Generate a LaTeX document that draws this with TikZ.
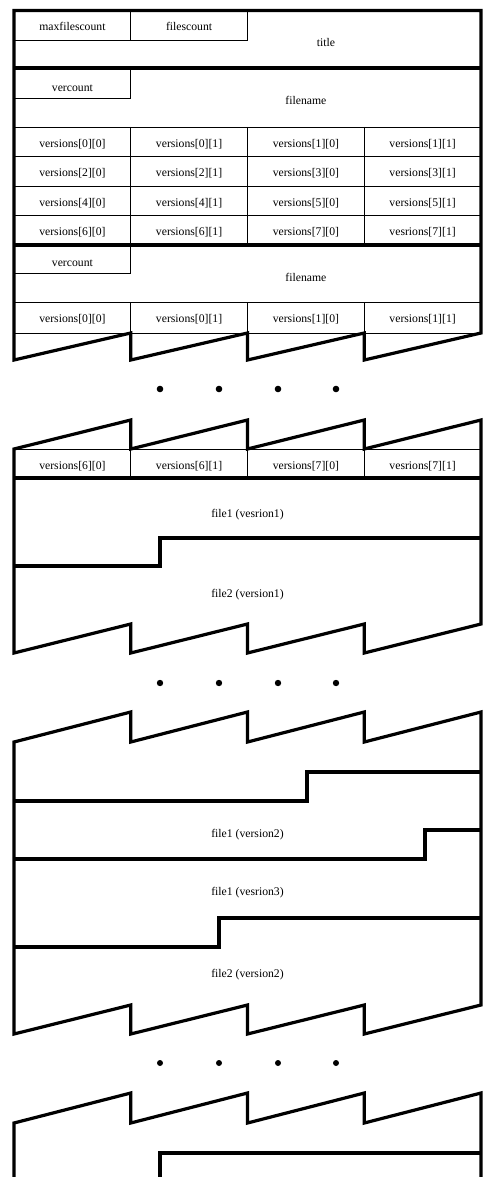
\documentclass[tikz,border=0pt]{standalone}
\usepackage{fontspec}
\setmainfont{Liberation Serif}
\begin{document}
\begin{tikzpicture}[x=1pt,y=-1pt,
  bordr/.style={line width=3.2pt, line join=miter},
  cellline/.style={line width=0.8pt},
  lbl/.style={font=\fontsize{11.7}{14}\selectfont, anchor=base, inner sep=0pt},
  dotmark/.style={fill=black}]
\useasboundingbox (0,0) rectangle (483,1177);
\def\xa{14}\def\xb{130.75}\def\xc{247.5}\def\xd{364.25}\def\xe{481}
% ---------- header block ----------
\draw[cellline] (\xa,40) -- (\xc,40);
\draw[cellline] (\xb,10.5) -- (\xb,40);
\draw[cellline] (\xc,10.5) -- (\xc,40);
\draw[cellline] (\xa,98) -- (\xb,98) -- (\xb,68);
\foreach \y in {127,156,186,215} \draw[cellline] (\xa,\y) -- (\xe,\y);
\foreach \x in {\xb,\xc,\xd} \draw[cellline] (\x,127) -- (\x,245);
\draw[cellline] (\xa,273) -- (\xb,273) -- (\xb,245);
\draw[cellline] (\xa,302) -- (\xe,302);
\draw[cellline] (\xa,333) -- (\xe,333);
\foreach \x in {\xb,\xc,\xd} \draw[cellline] (\x,302) -- (\x,333);
\draw[bordr] (\xa,68) -- (\xe,68);
\draw[bordr] (\xa,245) -- (\xe,245);
\draw[bordr] (\xa,360) -- (\xa,10.5) -- (\xe,10.5) -- (\xe,333)
  -- (\xd,360) -- (\xd,333) -- (\xc,360) -- (\xc,333) -- (\xb,360) -- (\xb,333) -- cycle;
\node[lbl] (maxfc) at (72.4,31) {maxfilescount};
\node[lbl] (filesc) at (189.1,31) {filescount};
\node[lbl] (title) at (326,47) {title};
\node[lbl] (verc1) at (72.4,92) {vercount};
\node[lbl] (fname1) at (305.9,105) {filename};
\node[lbl] (v00) at (72.4,148) {versions[0][0]};
\node[lbl] (v01) at (189.1,148) {versions[0][1]};
\node[lbl] (v10) at (305.9,148) {versions[1][0]};
\node[lbl] (v11) at (422.6,148) {versions[1][1]};
\node[lbl] (v20) at (72.4,177) {versions[2][0]};
\node[lbl] (v21) at (189.1,177) {versions[2][1]};
\node[lbl] (v30) at (305.9,177) {versions[3][0]};
\node[lbl] (v31) at (422.6,177) {versions[3][1]};
\node[lbl] (v40) at (72.4,206.5) {versions[4][0]};
\node[lbl] (v41) at (189.1,206.5) {versions[4][1]};
\node[lbl] (v50) at (305.9,206.5) {versions[5][0]};
\node[lbl] (v51) at (422.6,206.5) {versions[5][1]};
\node[lbl] (v60) at (72.4,235.5) {versions[6][0]};
\node[lbl] (v61) at (189.1,235.5) {versions[6][1]};
\node[lbl] (v70) at (305.9,235.5) {versions[7][0]};
\node[lbl] (v71) at (422.6,235.5) {vesrions[7][1]};
\node[lbl] (verc2) at (72.4,266) {vercount};
\node[lbl] (fname2) at (305.9,281) {filename};
\node[lbl] (w00) at (72.4,322) {versions[0][0]};
\node[lbl] (w01) at (189.1,322) {versions[0][1]};
\node[lbl] (w10) at (305.9,322) {versions[1][0]};
\node[lbl] (w11) at (422.6,322) {versions[1][1]};
% ---------- dots ----------
\foreach \y/\r in {389/3.3,683/3.2,1063/3} {
  \foreach \x in {160,219,278,336} \fill[dotmark] (\x,\y) circle[radius=\r];
}
% ---------- second block ----------
\draw[cellline] (\xa,449) -- (\xe,449);
\foreach \x in {\xb,\xc,\xd} \draw[cellline] (\x,449) -- (\x,478);
\draw[bordr] (\xa,478) -- (\xe,478);
\draw[bordr] (\xa,566) -- (160,566) -- (160,538) -- (\xe,538);
\draw[bordr] (\xa,449) -- (\xb,420) -- (\xb,449) -- (\xc,420) -- (\xc,449) -- (\xd,420) -- (\xd,449) -- (\xe,420)
  -- (\xe,624) -- (\xd,653) -- (\xd,624) -- (\xc,653) -- (\xc,624) -- (\xb,653) -- (\xb,624) -- (\xa,653) -- cycle;
\node[lbl] (x60) at (72.4,469.5) {versions[6][0]};
\node[lbl] (x61) at (189.1,469.5) {versions[6][1]};
\node[lbl] (x70) at (305.9,469.5) {versions[7][0]};
\node[lbl] (x71) at (422.6,469.5) {vesrions[7][1]};
\node[lbl] (f1v1) at (247.5,517) {file1 (vesrion1)};
\node[lbl] (f2v1) at (247.5,597) {file2 (version1)};
% ---------- third block ----------
\draw[bordr] (\xa,801) -- (307,801) -- (307,772) -- (\xe,772);
\draw[bordr] (\xa,859) -- (425,859) -- (425,830) -- (\xe,830);
\draw[bordr] (\xa,947) -- (219,947) -- (219,918) -- (\xe,918);
\draw[bordr] (\xa,742) -- (\xb,712) -- (\xb,742) -- (\xc,712) -- (\xc,742) -- (\xd,712) -- (\xd,742) -- (\xe,712)
  -- (\xe,1005) -- (\xd,1034) -- (\xd,1005) -- (\xc,1034) -- (\xc,1005) -- (\xb,1034) -- (\xb,1005) -- (\xa,1034) -- cycle;
\node[lbl] (f1v2) at (247.5,837) {file1 (version2)};
\node[lbl] (f1v3) at (247.5,895) {file1 (vesrion3)};
\node[lbl] (f2v2) at (247.5,977) {file2 (version2)};
% ---------- last block ----------
\draw[bordr] (\xa,1180) -- (\xa,1123) -- (\xb,1093) -- (\xb,1123) -- (\xc,1093) -- (\xc,1123) -- (\xd,1093) -- (\xd,1123) -- (\xe,1093) -- (\xe,1180);
\draw[bordr] (160,1180) -- (160,1153) -- (\xe,1153);
\end{tikzpicture}
\end{document}
